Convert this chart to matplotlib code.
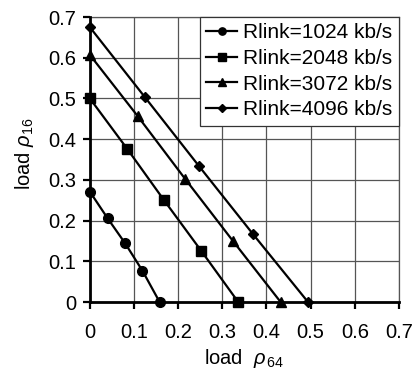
import matplotlib
matplotlib.use("Agg")
import matplotlib.pyplot as plt

plt.rcParams['font.family'] = ['Liberation Sans', 'DejaVu Sans']
plt.rcParams['mathtext.fontset'] = 'custom'
plt.rcParams['mathtext.it'] = 'Liberation Sans:italic'
plt.rcParams['mathtext.rm'] = 'Liberation Sans'

labels = ["Rlink=1024 kb/s", "Rlink=2048 kb/s", "Rlink=3072 kb/s", "Rlink=4096 kb/s"]
x1024 = [0, 0.040, 0.080, 0.119, 0.158]
y1024 = [0.271, 0.206, 0.144, 0.077, 0]
x2048 = [0, 0.084, 0.168, 0.252, 0.336]
y2048 = [0.5, 0.377, 0.25, 0.126, 0]
x3072 = [0, 0.108, 0.216, 0.324, 0.432]
y3072 = [0.607, 0.457, 0.302, 0.150, 0]
x4096 = [0, 0.124, 0.247, 0.370, 0.494]
y4096 = [0.675, 0.504, 0.334, 0.166, 0]
xticks = [0, 0.1, 0.2, 0.3, 0.4, 0.5, 0.6, 0.7]
xticklabels = ["0", "0.1", "0.2", "0.3", "0.4", "0.5", "0.6", "0.7"]
yticks = [0, 0.1, 0.2, 0.3, 0.4, 0.5, 0.6, 0.7]
yticklabels = ["0", "0.1", "0.2", "0.3", "0.4", "0.5", "0.6", "0.7"]

fig = plt.figure(figsize=(4.16, 3.74), dpi=100)
ax = fig.add_axes([0.216, 0.1925, 0.743, 0.762])

series = [(x1024, y1024, 'o', 7), (x2048, y2048, 's', 7), (x3072, y3072, '^', 7), (x4096, y4096, 'D', 5.5)]
for (xs, ys, m, ms), lab in zip(series, labels):
    ax.plot(xs, ys, color='black', lw=1.6, marker=m, ms=ms, mfc='black', mec='black',
            label=lab, clip_on=False, zorder=3)

ax.set_xlim(0, 0.7)
ax.set_ylim(0, 0.7)
ax.set_xticks(xticks)
ax.set_xticklabels(xticklabels)
ax.set_yticks(yticks)
ax.set_yticklabels(yticklabels)
ax.grid(True, color='#555555', lw=0.9)
ax.set_axisbelow(True)
for s in ['top', 'right']:
    ax.spines[s].set_color('#555555')
    ax.spines[s].set_linewidth(0.9)
for s in ['left', 'bottom']:
    ax.spines[s].set_linewidth(2.0)
    ax.spines[s].set_zorder(4)
ax.tick_params(axis='x', direction='out', length=5, width=1.6, pad=10, labelsize=14.5)
ax.tick_params(axis='y', direction='out', length=5, width=1.6, pad=5, labelsize=14.5)

ax.set_xlabel(r"load  $\rho_{\,64}$", fontsize=14.5, labelpad=4)
ax.set_ylabel(r"load $\rho_{16}$", fontsize=14.5)
ax.yaxis.set_label_coords(-0.175, 0.52)

leg = ax.legend(loc='upper right', fontsize=15, frameon=True, fancybox=False, borderaxespad=0,
                handlelength=1.5, handletextpad=0.3, borderpad=0.3, labelspacing=0.32,
                markerscale=0.75)
leg.get_frame().set_edgecolor('#333333')
leg.get_frame().set_linewidth(0.9)
leg.get_frame().set_alpha(1)

fig.savefig("out.png", dpi=100)
